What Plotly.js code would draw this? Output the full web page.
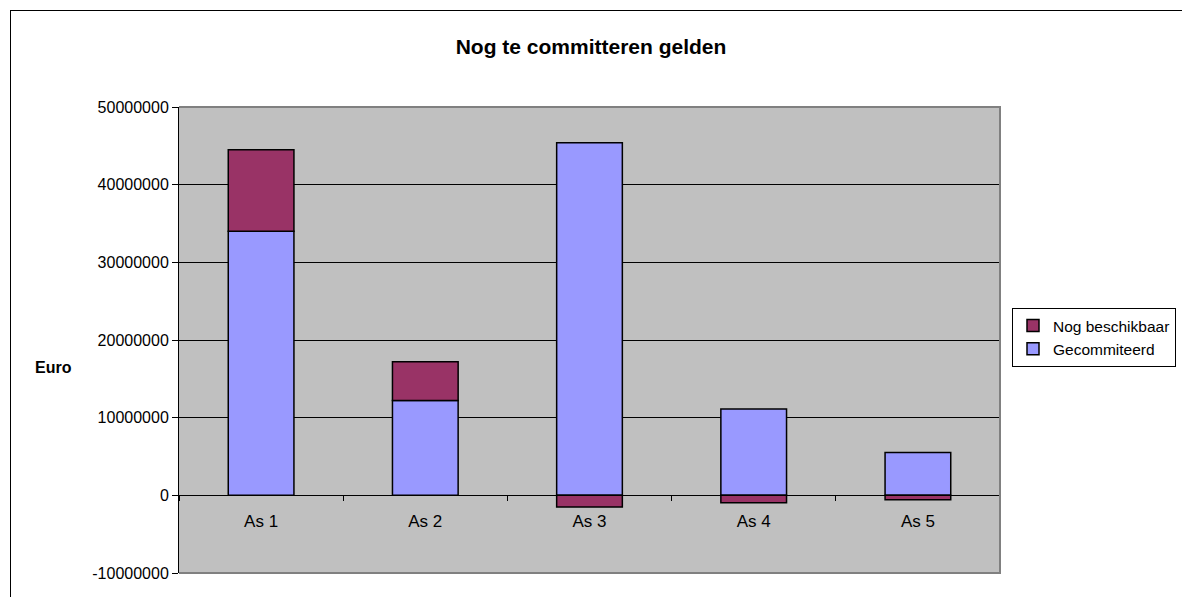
<!DOCTYPE html>
<html>
<head>
<meta charset="utf-8">
<script src="https://cdn.plot.ly/plotly-3.0.1.min.js"></script>
<style>
  html, body { margin: 0; padding: 0; background: #fff; overflow: hidden; width: 1182px; height: 597px; }
  #chart { width: 1182px; height: 597px; }
  #frame { position: absolute; left: 10px; top: 10px; width: 1172px; height: 587px;
           border-left: 1px solid #000; border-top: 1px solid #000; pointer-events: none; box-sizing: border-box; }
</style>
</head>
<body>
<div id="chart"></div>
<div id="frame"></div>
<script>
const categories = ["As 1", "As 2", "As 3", "As 4", "As 5"];
const gecommiteerd = [34000000, 12200000, 45400000, 11100000, 5500000];
const nogBeschikbaar = [10500000, 5000000, -1500000, -950000, -570000];
const yTickVals = [-10000000, 0, 10000000, 20000000, 30000000, 40000000, 50000000];
const yTickText = ["-10000000", "0", "10000000", "20000000", "30000000", "40000000", "50000000"];

const FONT = "Arial, 'Liberation Sans', sans-serif";

const traces = [
  {
    type: "bar", name: "Gecommiteerd", x: categories, y: gecommiteerd,
    marker: { color: "#9999FF", line: { color: "#000000", width: 1.5 } },
    width: 0.4
  },
  {
    type: "bar", name: "Nog beschikbaar", x: categories, y: nogBeschikbaar,
    marker: { color: "#993366", line: { color: "#000000", width: 1.5 } },
    width: 0.4
  }
];

const layout = {
  width: 1182, height: 597,
  margin: { l: 179, r: 182, t: 107, b: 24, autoexpand: false },
  paper_bgcolor: "#FFFFFF",
  plot_bgcolor: "#C0C0C0",
  barmode: "relative",
  font: { family: FONT, size: 16, color: "#000" },
  title: {
    text: "<b>Nog te committeren gelden</b>",
    font: { family: FONT, size: 21, color: "#000" },
    xref: "container", x: 0.5, xanchor: "center",
    yref: "container", y: 1 - 47 / 597, yanchor: "middle"
  },
  xaxis: {
    type: "category",
    anchor: "free", position: 1 / 6,
    showline: true, linecolor: "#000", linewidth: 1,
    ticks: "outside", tickson: "boundaries", ticklen: 5, tickcolor: "#000",
    ticklabelstandoff: 10,
    showgrid: false, zeroline: false,
    tickfont: { family: FONT, size: 17, color: "#000" },
    fixedrange: true
  },
  yaxis: {
    range: [-10000000, 50000000],
    tickvals: yTickVals, ticktext: yTickText,
    showline: true, linecolor: "#000", linewidth: 1,
    ticks: "outside", ticklen: 6, tickcolor: "#000",
    showgrid: true, gridcolor: "#000", gridwidth: 1,
    zeroline: false,
    tickfont: { family: FONT, size: 16, color: "#000" },
    fixedrange: true
  },
  shapes: [
    {
      type: "path", xref: "paper", yref: "paper",
      path: "M 0 1 L 1 1 L 1 0 L 0 0",
      line: { color: "#808080", width: 2 }, layer: "above"
    }
  ],
  annotations: [
    {
      text: "<b>Euro</b>", xref: "paper", yref: "paper",
      x: (53 - 179) / 821, y: (573 - 367) / 466,
      xanchor: "center", yanchor: "middle", showarrow: false,
      font: { family: FONT, size: 16, color: "#000" }
    }
  ],
  showlegend: true,
  legend: {
    xref: "container", yref: "container",
    x: 1012 / 1182, xanchor: "left",
    y: 1 - 308 / 597, yanchor: "top",
    traceorder: "reversed",
    itemwidth: 30,
    bgcolor: "#FFFFFF", bordercolor: "#000", borderwidth: 1,
    font: { family: FONT, size: 15.5, color: "#000" }
  }
};

Plotly.newPlot("chart", traces, layout, { displayModeBar: false, staticPlot: true });
</script>
</body>
</html>
